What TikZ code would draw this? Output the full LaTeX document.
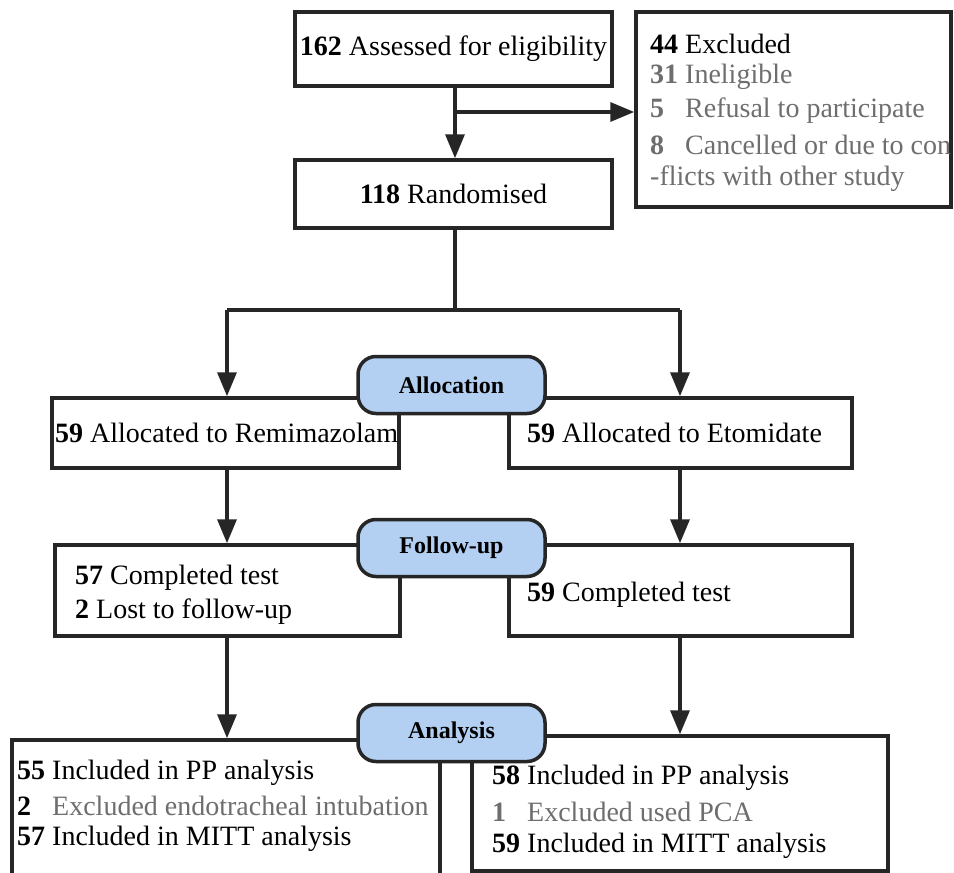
\documentclass[tikz,border=0pt]{standalone}
\usepackage{fontspec}
\setmainfont{Liberation Serif}
\usetikzlibrary{arrows.meta}
\definecolor{ln}{HTML}{262626}
\definecolor{gtx}{HTML}{6E6E6E}
\definecolor{pillblue}{HTML}{B3CFF1}
\newcommand{\nb}[1]{\makebox[35pt][l]{\textbf{#1}}}
\begin{document}
\begin{tikzpicture}[x=1pt,y=-1pt,
  box/.style={draw=ln,line width=3.5pt,fill=white,inner sep=0pt},
  pill/.style={draw=ln,line width=3.5pt,fill=pillblue,rounded corners=18pt,inner sep=0pt,minimum width=187pt,minimum height=57pt,font=\fontsize{24}{28}\selectfont\bfseries},
  txt/.style={inner sep=0pt,anchor=west,font=\fontsize{28}{34}\selectfont},
  arr/.style={draw=ln,line width=3.5pt,-{Triangle[length=24pt,width=19pt]}},
  ln/.style={draw=ln,line width=3.5pt}]
\useasboundingbox (0,0) rectangle (954,873);
% boxes
\node[box,minimum width=317pt,minimum height=74pt] (assess) at (453.5,49) {};
\node[box,minimum width=315pt,minimum height=195pt] (excl) at (793.5,109.5) {};
\node[box,minimum width=317pt,minimum height=68pt] (rand) at (453.5,194) {};
\node[box,minimum width=347pt,minimum height=70pt] (allocL) at (225.5,433) {};
\node[box,minimum width=343pt,minimum height=70pt] (allocR) at (680.5,433) {};
\node[box,minimum width=345pt,minimum height=91pt] (fuL) at (227.5,590.5) {};
\node[box,minimum width=343pt,minimum height=91pt] (fuR) at (680.5,590.5) {};
\node[box,minimum width=428pt,minimum height=150pt] (anL) at (226,815) {};
\node[box,minimum width=416pt,minimum height=135pt] (anR) at (680,803.5) {};
% pills
\node[pill] (pAlloc) at (451.5,385) {Allocation};
\node[pill] (pFollow) at (451.5,548) {Follow-up};
\node[pill] (pAnal) at (451.5,733) {Analysis};
% texts
\node[txt,anchor=center] (t1) at (assess.center) {\textbf{162} Assessed for eligibility};
\node[txt] (e1) at (650,44) {\nb{44}Excluded};
\node[txt,text=gtx] (e2) at (650,77) {\nb{31}Ineligible};
\node[txt,text=gtx] (e3) at (650,111) {\nb{5}Refusal to participate};
\node[txt,text=gtx] (e4) at (650,145) {\nb{8}Cancelled or due to con};
\node[txt,text=gtx] (e5) at (650,179) {-flicts with other study};
\node[txt,anchor=center] (t2) at (rand.center) {\textbf{118} Randomised};
\node[txt] (a1) at (55,433) {\textbf{59} Allocated to Remimazolam};
\node[txt] (a2) at (527,433) {\textbf{59} Allocated to Etomidate};
\node[txt] (f1) at (75,578) {\textbf{57} Completed test};
\node[txt] (f2) at (75,612) {\textbf{2} Lost to follow-up};
\node[txt] (f3) at (527,595) {\textbf{59} Completed test};
\node[txt] (l1) at (17,773) {\nb{55}Included in PP analysis};
\node[txt] (l2) at (17,806) {\nb{2}\textcolor{gtx}{Excluded endotracheal intubation}};
\node[txt] (l3) at (17,839) {\nb{57}Included in MITT analysis};
\node[txt] (r1) at (492,778) {\nb{58}Included in PP analysis};
\node[txt,text=gtx] (r2) at (492,812) {\nb{1}Excluded used PCA};
\node[txt] (r3) at (492,846) {\nb{59}Included in MITT analysis};
% connectors
\coordinate (j1) at (455,112);
\coordinate (j2) at (455,310);
\coordinate (jl) at (227,310);
\coordinate (jr) at (680,310);
\draw[arr] (assess.south -| j1) -- (rand.north -| j1);
\draw[arr] (j1) -- (excl.west |- j1);
\draw[ln] (rand.south -| j2) -- (j2);
\draw[ln] (jl) -- (jr);
\draw[arr] (jl) -- (allocL.north -| jl);
\draw[arr] (jr) -- (allocR.north -| jr);
\draw[arr] (allocL.south -| jl) -- (fuL.north -| jl);
\draw[arr] (allocR.south -| jr) -- (fuR.north -| jr);
\draw[arr] (fuL.south -| jl) -- (anL.north -| jl);
\draw[arr] (fuR.south -| jr) -- (anR.north -| jr);
\end{tikzpicture}
\end{document}
